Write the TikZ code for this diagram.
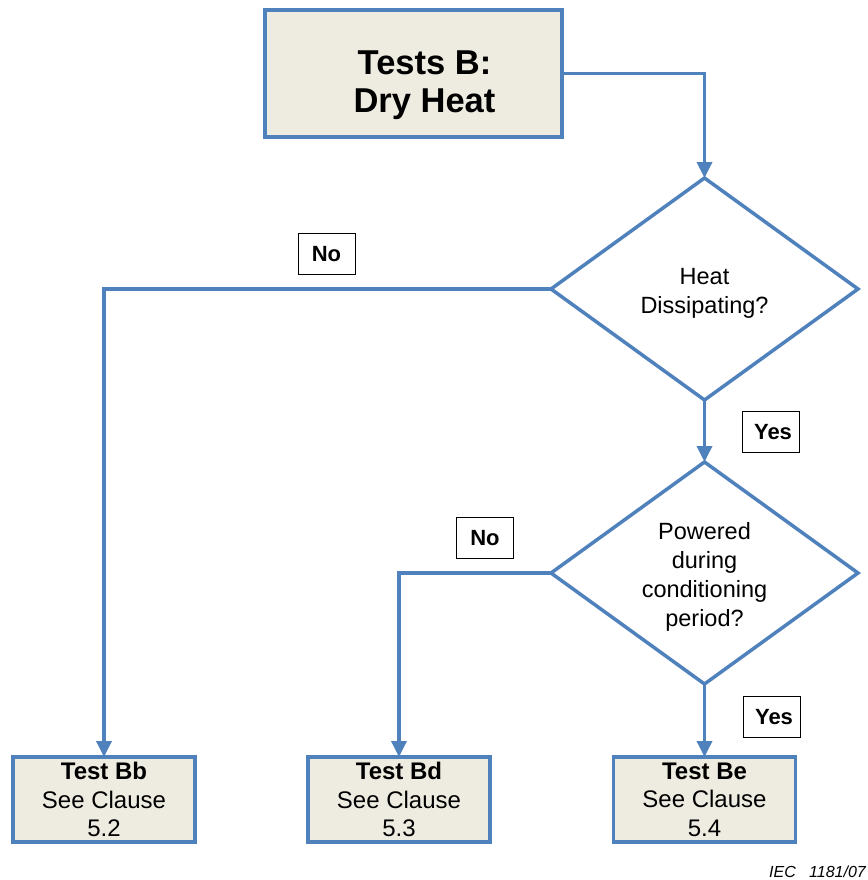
\documentclass[tikz,border=0pt]{standalone}
\usepackage{fontspec}
\setmainfont{Liberation Sans}
\usetikzlibrary{shapes.geometric,arrows.meta}
\definecolor{flowblue}{RGB}{79,129,189}
\definecolor{boxfill}{RGB}{238,236,225}
\newcommand{\fixedtext}[2]{\smash{\raisebox{#1}{\begin{tabular}{@{}c@{}}#2\end{tabular}}}}
\tikzset{
  procbox/.style={draw=flowblue,line width=3.5pt,fill=boxfill,rectangle,inner sep=0pt,outer sep=0pt,align=center},
  decbox/.style={draw=flowblue,line width=3.5pt,fill=white,diamond,inner sep=0pt,outer sep=0pt,minimum width=307pt,minimum height=222pt,align=center,font=\fontsize{23.5}{29}\selectfont},
  tagbox/.style={draw=black,line width=1pt,fill=white,inner sep=0pt,minimum width=57pt,minimum height=41pt,font=\bfseries\fontsize{22}{24}\selectfont},
  flowarr/.style={draw=flowblue,line width=3.5pt,-{Triangle[width=15pt,length=16pt]}},
  resbox/.style={procbox,minimum width=182pt,minimum height=85pt,font=\fontsize{24}{28.5}\selectfont}
}
\begin{document}
\begin{tikzpicture}[x=1pt,y=-1pt]
\useasboundingbox (0,0) rectangle (867,880);
\node[procbox,minimum width=297pt,minimum height=127pt,font=\bfseries\fontsize{34.5}{38}\selectfont] (top) at (413.5,73.5) {\fixedtext{-19pt}{\hspace*{22pt}Tests B:\\\hspace*{22pt}Dry Heat}};
\node[decbox] (d1) at (704.5,289) {\fixedtext{-10pt}{Heat\\Dissipating?}};
\node[decbox] (d2) at (704.5,573) {\fixedtext{-10.5pt}{Powered\\during\\conditioning\\period?}};
\node[resbox] (bb) at (104,799.5) {\textbf{Test Bb}\\See Clause\\5.2};
\node[resbox] (bd) at (399,799.5) {\textbf{Test Bd}\\See Clause\\5.3};
\node[resbox] (be) at (704.5,799.5) {\textbf{Test Be}\\See Clause\\5.4};
\draw[flowarr] (top.east) -| (d1.north);
\draw[flowarr] (d1.west) -| (bb.north);
\draw[flowarr] (d1.south) -- (d2.north);
\draw[flowarr] (d2.west) -| (bd.north);
\draw[flowarr] (d2.south) -- (be.north);
\node[tagbox] (no1) at (326.5,254) {No};
\node[tagbox] (yes1) at (771,432) {\hspace*{4pt}Yes};
\node[tagbox] (no2) at (485,538) {No};
\node[tagbox] (yes2) at (772,717) {\hspace*{4pt}Yes};
\node[anchor=east,inner sep=0pt,font=\itshape\fontsize{16}{18}\selectfont] (iec) at (866,872) {IEC\ \ \ 1181/07};
\end{tikzpicture}
\end{document}
